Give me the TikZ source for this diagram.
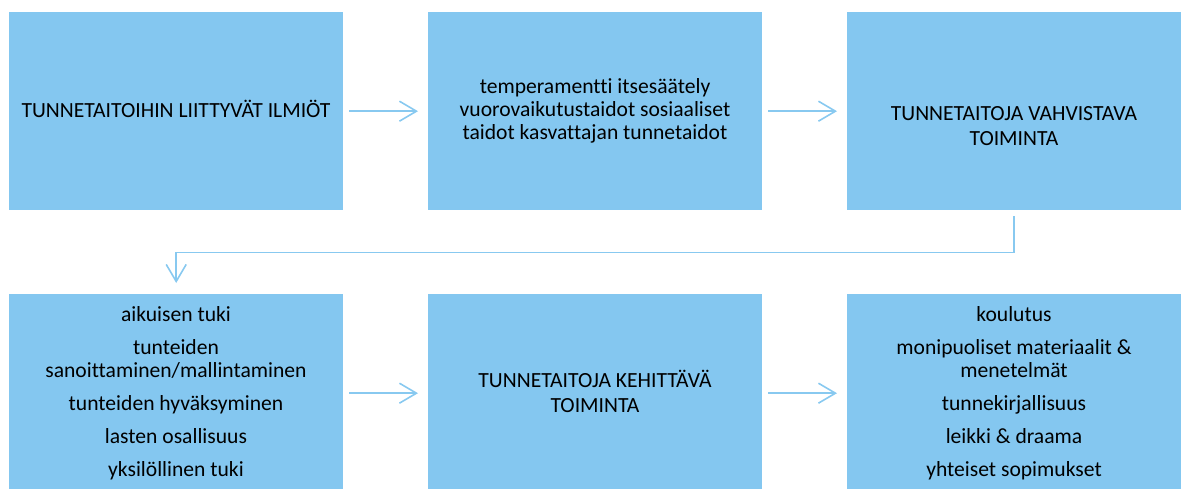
\documentclass[tikz,border=0pt]{standalone}
\usepackage{fontspec}
\setmainfont[Ligatures={NoCommon}]{Carlito}
\usetikzlibrary{arrows.meta}
\definecolor{boxblue}{RGB}{132,199,240}
\definecolor{lineblue}{RGB}{136,201,240}
\begin{document}
\begin{tikzpicture}[x=1pt,y=-1pt,
  box/.style={fill=boxblue, draw=none, minimum width=334pt, minimum height=198pt, inner sep=0pt, anchor=north west},
  lbl/.style={font=\fontsize{21.6}{23}\selectfont, align=center, text=black, inner sep=0pt, anchor=base},
  conn/.style={draw=lineblue, line width=1.6pt, -{Straight Barb[length=17pt,width=20pt,line width=1.6pt]}}]
\useasboundingbox (0,0) rectangle (1186,489);
\node[box] (b1) at (9,12) {};
\node[box] (b2) at (428,12) {};
\node[box] (b3) at (847,12) {};
\node[box] (b4) at (9,294) {};
\node[box] (b5) at (428,294) {};
\node[box] (b6) at (847,294) {};
\node[lbl] (t1) at (176,118) {TUNNETAITOIHIN LIITTYVÄT ILMIÖT};
\node[lbl] (t2) at (595,140) {temperamentti itsesäätely\\vuorovaikutustaidot sosiaaliset\\taidot kasvattajan tunnetaidot};
\node[lbl] (t3) at (1014,146) {TUNNETAITOJA VAHVISTAVA\\[2pt]TOIMINTA};
\node[lbl] (t4) at (176,476) {aikuisen tuki\\[10pt]tunteiden\\sanoittaminen/mallintaminen\\[10pt]tunteiden hyväksyminen\\[10pt]lasten osallisuus\\[10pt]yksilöllinen tuki};
\node[lbl] (t5) at (595,412) {TUNNETAITOJA KEHITTÄVÄ\\[2pt]TOIMINTA};
\node[lbl] (t6) at (1014,476) {koulutus\\[10pt]monipuoliset materiaalit \&\\menetelmät\\[10pt]tunnekirjallisuus\\[10pt]leikki \& draama\\[10pt]yhteiset sopimukset};
\draw[conn] ([xshift=6pt]b1.east) -- ([xshift=-10pt]b2.west);
\draw[conn] ([xshift=6pt]b2.east) -- ([xshift=-10pt]b3.west);
\draw[conn] ([xshift=6pt]b4.east) -- ([xshift=-10pt]b5.west);
\draw[conn] ([xshift=6pt]b5.east) -- ([xshift=-10pt]b6.west);
\draw[conn] ([yshift=-6pt]b3.south) -- ++(0,36) -| ([yshift=11pt]b4.north);
\end{tikzpicture}
\end{document}
